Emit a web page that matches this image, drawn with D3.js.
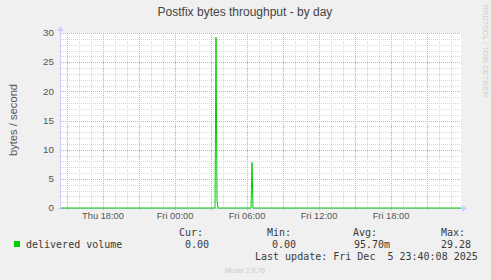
<!DOCTYPE html>
<html lang="en">
<head>
    <meta charset="UTF-8">
    <title>Postfix bytes throughput - by day</title>
    <style>
        body { margin: 0; background: #f0f0f0; }
        svg text { font-family: "Liberation Sans", Arial, sans-serif; }
        svg text.mono { font-family: "DejaVu Sans Mono", monospace; font-size: 10px; fill: #3a3a3a; }
    </style>
</head>
<body>
<script src="https://cdn.jsdelivr.net/npm/d3@7"></script>
<script>
    // data (5 minute samples, only the points where it changes)
    var sampleTimes = ["2025-12-04T14:30", "2025-12-05T03:20", "2025-12-05T03:25", "2025-12-05T03:30",
        "2025-12-05T03:35", "2025-12-05T06:20", "2025-12-05T06:25", "2025-12-05T06:30", "2025-12-05T23:50"];
    var deliveredVolume = [0, 0, 29.28, 1.2, 0, 0, 7.8, 0, 0];

    var yTicks = [0, 5, 10, 15, 20, 25, 30];
    var legendHeaders = ["Cur:", "Min:", "Avg:", "Max:"];
    var legendValues = ["0.00", "0.00", "95.70m", "29.28"];

    var parse = d3.utcParse("%Y-%m-%dT%H:%M");
    var data = sampleTimes.map(function(t, i) { return {t: parse(t), v: deliveredVolume[i]}; });

    var svg = d3.select("body").append("svg")
            .attr("width", 491)
            .attr("height", 280)
            .style("display", "block");

    svg.append("rect").attr("width", 491).attr("height", 280).attr("fill", "#f0f0f0");

    var x = d3.scaleUtc()
            .domain([parse("2025-12-04T14:30"), parse("2025-12-05T23:50")])
            .range([61, 461]);
    var y = d3.scaleLinear().domain([0, 30]).range([208, 33]);

    // canvas
    svg.append("rect").attr("x", 61).attr("y", 33).attr("width", 400).attr("height", 175).attr("fill", "#fff");

    var grid = svg.append("g").attr("shape-rendering", "crispEdges");

    // minor grid
    grid.selectAll(".ymin").data(d3.range(1, 30).filter(function(d) { return d % 5; }))
        .enter().append("line")
        .attr("x1", 61).attr("x2", 461)
        .attr("y1", function(d) { return Math.round(y(d)) + 0.5; })
        .attr("y2", function(d) { return Math.round(y(d)) + 0.5; })
        .attr("stroke", "#d8d8d8").attr("stroke-dasharray", "1,1");
    grid.selectAll(".xmin").data(x.ticks(d3.utcHour.every(1)))
        .enter().append("line")
        .attr("x1", function(d) { return Math.round(x(d)) + 0.5; })
        .attr("x2", function(d) { return Math.round(x(d)) + 0.5; })
        .attr("y1", 33).attr("y2", 208)
        .attr("stroke", "#d8d8d8").attr("stroke-dasharray", "1,1");

    // major grid
    grid.selectAll(".ymaj").data(yTicks.slice(1))
        .enter().append("line")
        .attr("x1", 61).attr("x2", 461)
        .attr("y1", function(d) { return Math.round(y(d)) + 0.5; })
        .attr("y2", function(d) { return Math.round(y(d)) + 0.5; })
        .attr("stroke", "#eaa0a0").attr("stroke-dasharray", "1,1");
    grid.selectAll(".xmaj").data(x.ticks(d3.utcHour.every(3)))
        .enter().append("line")
        .attr("x1", function(d) { return Math.round(x(d)) + 0.5; })
        .attr("x2", function(d) { return Math.round(x(d)) + 0.5; })
        .attr("y1", 33).attr("y2", 211)
        .attr("stroke", "#eaa0a0").attr("stroke-dasharray", "1,1");

    // axis labels
    svg.append("g").selectAll("text").data(yTicks)
        .enter().append("text")
        .attr("x", 54).attr("y", function(d) { return y(d) + 3.3; })
        .attr("text-anchor", "end")
        .attr("font-size", 9.8).attr("fill", "#555")
        .text(function(d) { return d; });

    svg.append("g").selectAll("text").data(x.ticks(d3.utcHour.every(6)))
        .enter().append("text")
        .attr("x", function(d) { return x(d); }).attr("y", 218.5)
        .attr("text-anchor", "middle")
        .attr("font-size", 9.3).attr("fill", "#555")
        .text(d3.utcFormat("%a %H:%M"));

    // axes with arrows
    svg.append("line").attr("x1", 60.5).attr("x2", 60.5).attr("y1", 210).attr("y2", 30)
        .attr("stroke", "#ccccff");
    svg.append("path").attr("d", "M57,31 L60.5,26 L64,31 Z").attr("fill", "#ccccff");
    svg.append("line").attr("x1", 58).attr("x2", 463).attr("y1", 208.5).attr("y2", 208.5)
        .attr("stroke", "#ccccff");
    svg.append("path").attr("d", "M462,205 L467,208.5 L462,212 Z").attr("fill", "#ccccff");

    // series
    var line = d3.line()
            .x(function(d) { return x(d.t); })
            .y(function(d) { return y(d.v); });
    svg.append("path").datum(data)
        .attr("d", line)
        .attr("fill", "none")
        .attr("stroke", "#00cc00")
        .attr("stroke-width", 1);

    // title
    svg.append("text").attr("x", 245).attr("y", 15.5).attr("text-anchor", "middle")
        .attr("font-size", 12).attr("fill", "#444")
        .text("Postfix bytes throughput - by day");

    svg.append("text").attr("transform", "translate(17,120) rotate(-90)")
        .attr("text-anchor", "middle").attr("font-size", 11.2).attr("fill", "#555")
        .text("bytes / second");

    svg.append("text").attr("transform", "translate(483,5) rotate(90)")
        .attr("font-size", 7.3).attr("fill", "#cfcfcf")
        .text("RRDTOOL / TOBI OETIKER");

    // legend
    svg.append("rect").attr("x", 14).attr("y", 241).attr("width", 6).attr("height", 6).attr("fill", "#00cc00");
    svg.append("text").attr("class", "mono").attr("x", 26).attr("y", 248).text("delivered volume");

    var headerX = [179, 267, 353, 441];
    var valueX = [209, 296, 390, 471];
    svg.append("g").selectAll("text").data(legendHeaders)
        .enter().append("text").attr("class", "mono")
        .attr("x", function(d, i) { return headerX[i]; }).attr("y", 236)
        .text(function(d) { return d; });
    svg.append("g").selectAll("text").data(legendValues)
        .enter().append("text").attr("class", "mono")
        .attr("x", function(d, i) { return valueX[i]; }).attr("y", 248)
        .attr("text-anchor", "end")
        .text(function(d) { return d; });

    svg.append("text").attr("class", "mono").attr("x", 255).attr("y", 260)
        .style("white-space", "pre")
        .text("Last update: Fri Dec  5 23:40:08 2025");

    svg.append("text").attr("x", 245).attr("y", 273).attr("text-anchor", "middle")
        .attr("font-size", 7).attr("fill", "#c8c8c8")
        .text("Munin 2.0.76");
</script>
</body>
</html>
